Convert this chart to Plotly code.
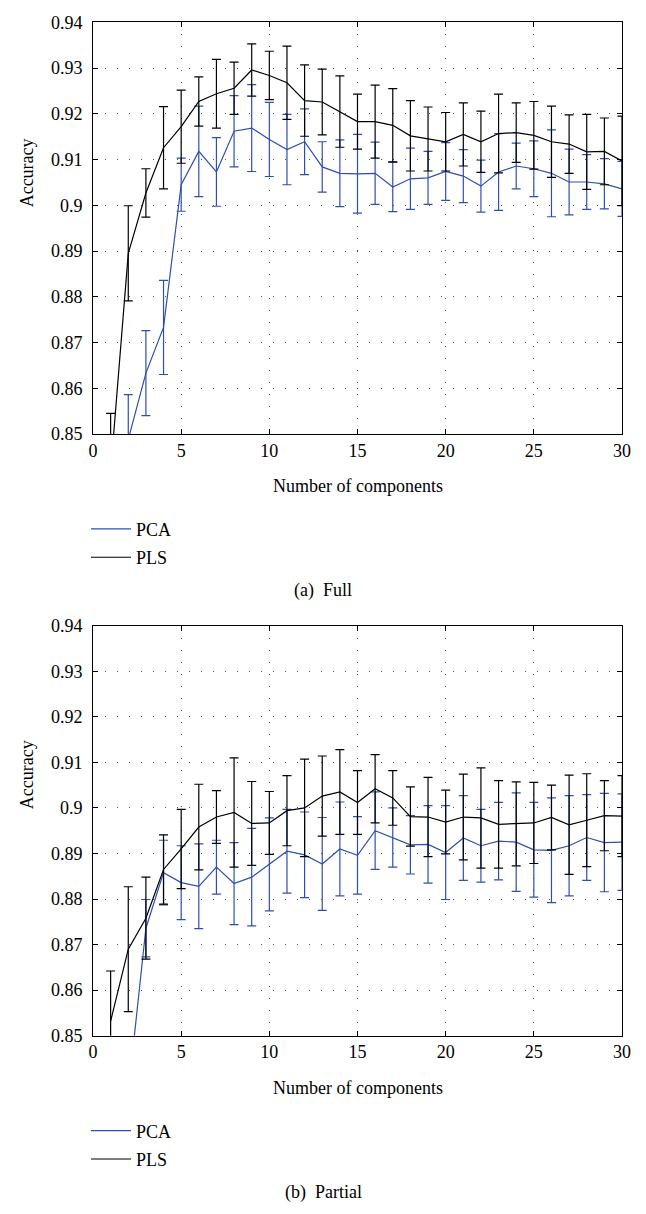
import plotly.graph_objects as go

# ---------------- data ----------------
components = list(range(1, 31))

full_pca_mean = [0.8300, 0.8488, 0.8633, 0.8733, 0.9045, 0.9118, 0.9073, 0.9162, 0.9169, 0.9144,
                 0.9122, 0.9139, 0.9084, 0.9070, 0.9069, 0.9070, 0.9040, 0.9058, 0.9060, 0.9074,
                 0.9064, 0.9042, 0.9073, 0.9086, 0.9080, 0.9070, 0.9051, 0.9051, 0.9047, 0.9036]
full_pca_err = [0.0100, 0.0098, 0.0093, 0.0103, 0.0058, 0.0099, 0.0075, 0.0078, 0.0095, 0.0081,
                0.0077, 0.0072, 0.0055, 0.0073, 0.0086, 0.0068, 0.0054, 0.0067, 0.0058, 0.0063,
                0.0058, 0.0057, 0.0084, 0.0050, 0.0061, 0.0095, 0.0072, 0.0060, 0.0055, 0.0060]

full_pls_mean = [0.8418, 0.8895, 0.9027, 0.9126, 0.9172, 0.9227, 0.9244, 0.9256, 0.9296, 0.9284,
                 0.9268, 0.9229, 0.9226, 0.9205, 0.9183, 0.9183, 0.9175, 0.9152, 0.9145, 0.9139,
                 0.9155, 0.9139, 0.9157, 0.9159, 0.9153, 0.9139, 0.9134, 0.9117, 0.9118, 0.9097]
full_pls_err = [0.0127, 0.0104, 0.0053, 0.0090, 0.0080, 0.0054, 0.0075, 0.0057, 0.0057, 0.0053,
                0.0080, 0.0078, 0.0072, 0.0078, 0.0060, 0.0080, 0.0080, 0.0077, 0.0070, 0.0064,
                0.0069, 0.0067, 0.0086, 0.0065, 0.0074, 0.0078, 0.0064, 0.0082, 0.0073, 0.0098]

part_pca_mean = [0.8200, 0.8375, 0.8736, 0.8858, 0.8836, 0.8828, 0.8870, 0.8834, 0.8848, 0.8876,
                 0.8905, 0.8897, 0.8877, 0.8910, 0.8896, 0.8950, 0.8935, 0.8919, 0.8920, 0.8902,
                 0.8934, 0.8917, 0.8927, 0.8925, 0.8908, 0.8907, 0.8917, 0.8935, 0.8924, 0.8925]
part_pca_err = [0.0100, 0.0100, 0.0063, 0.0071, 0.0081, 0.0093, 0.0059, 0.0090, 0.0107, 0.0102,
                0.0092, 0.0094, 0.0102, 0.0103, 0.0085, 0.0085, 0.0065, 0.0064, 0.0085, 0.0103,
                0.0093, 0.0080, 0.0085, 0.0108, 0.0104, 0.0115, 0.0110, 0.0094, 0.0108, 0.0106]

part_pls_mean = [0.8532, 0.8690, 0.8758, 0.8865, 0.8910, 0.8958, 0.8980, 0.8990, 0.8966, 0.8967,
                 0.8994, 0.9000, 0.9026, 0.9035, 0.9012, 0.9042, 0.9022, 0.8981, 0.8980, 0.8969,
                 0.8980, 0.8978, 0.8964, 0.8965, 0.8967, 0.8979, 0.8963, 0.8973, 0.8983, 0.8982]
part_pls_err = [0.0110, 0.0137, 0.0090, 0.0076, 0.0087, 0.0094, 0.0058, 0.0120, 0.0092, 0.0069,
                0.0077, 0.0107, 0.0088, 0.0093, 0.0070, 0.0075, 0.0060, 0.0065, 0.0087, 0.0070,
                0.0094, 0.0110, 0.0096, 0.0092, 0.0089, 0.0071, 0.0109, 0.0102, 0.0077, 0.0089]

y_tickvals = [0.85, 0.86, 0.87, 0.88, 0.89, 0.90, 0.91, 0.92, 0.93, 0.94]
y_ticktext = ["0.85", "0.86", "0.87", "0.88", "0.89", "0.9", "0.91", "0.92", "0.93", "0.94"]
x_tickvals = [0, 5, 10, 15, 20, 25, 30]
x_ticktext = ["0", "5", "10", "15", "20", "25", "30"]

series_names = ["PCA", "PLS"]
captions = ["(a)  Full", "(b)  Partial"]
x_title = "Number of components"
y_title = "Accuracy"

# ---------------- style ----------------
PAGE_OFF = 8              # default body margin of the html page
W, H = 646 - 2 * PAGE_OFF, 1214 - 2 * PAGE_OFF
ML = 85                   # plot left at page x ~ 93
MR = W - 614              # plot right at page x ~ 622
BLUE = "#2f4fae"
BLACK = "#000000"
FONT = "Liberation Serif"
FS = 18


def py(page_y):  # page pixel-from-top -> paper y
    return 1 - (page_y - PAGE_OFF) / H


def px_x(page_x):  # page pixel-from-left -> paper x
    return (page_x - PAGE_OFF - ML) / (W - ML - MR)


fig = go.Figure()

panels = [
    (full_pca_mean, full_pca_err, full_pls_mean, full_pls_err, "x", "y", "legend", "a"),
    (part_pca_mean, part_pca_err, part_pls_mean, part_pls_err, "x2", "y2", "legend2", "b"),
]
for pca_m, pca_e, pls_m, pls_e, xa, ya, lg, tag in panels:
    for name, m, e, col in [(series_names[0], pca_m, pca_e, BLUE),
                            (series_names[1], pls_m, pls_e, BLACK)]:
        fig.add_trace(go.Scatter(
            x=components, y=m, mode="lines", name=name,
            line=dict(color=col, width=1.2),
            error_y=dict(type="data", array=e, visible=True, color=col,
                         thickness=1.2, width=4.5),
            xaxis=xa, yaxis=ya, legend=lg, legendgroup=tag + name,
        ))

axis_common = dict(
    showline=True, linecolor="black", linewidth=1, mirror="ticks",
    ticks="inside", ticklen=5, tickcolor="black", tickwidth=1,
    showgrid=True, gridcolor="#555555", gridwidth=1, griddash="1px,11px",
    zeroline=False,
    tickfont=dict(family=FONT, size=FS, color="black"),
)

x_dom = [0, 1]
y1_dom = [py(431), py(12.5)]
y2_dom = [py(1043), py(626)]

legend_common = dict(xanchor="left", yanchor="top", bgcolor="rgba(0,0,0,0)",
                     font=dict(family=FONT, size=FS), itemwidth=40, tracegroupgap=2)

fig.update_layout(
    width=W, height=H,
    margin=dict(l=ML, r=MR, t=0, b=0),
    paper_bgcolor="white", plot_bgcolor="white",
    font=dict(family=FONT, size=FS, color="black"),
    xaxis=dict(domain=x_dom, anchor="y", range=[0, 30], tickvals=x_tickvals,
               ticktext=x_ticktext, ticklabelstandoff=0, **axis_common),
    yaxis=dict(domain=y1_dom, anchor="x", range=[0.85, 0.94], tickvals=y_tickvals,
               ticktext=y_ticktext, ticklabelstandoff=6, **axis_common),
    xaxis2=dict(domain=x_dom, anchor="y2", range=[0, 30], tickvals=x_tickvals,
                ticktext=x_ticktext, ticklabelstandoff=0, **axis_common),
    yaxis2=dict(domain=y2_dom, anchor="x2", range=[0.85, 0.94], tickvals=y_tickvals,
                ticktext=y_ticktext, ticklabelstandoff=6, **axis_common),
    legend=dict(x=px_x(86), y=py(509), **legend_common),
    legend2=dict(x=px_x(86), y=py(1121), **legend_common),
    showlegend=True,
)

annotations = []
for off, cap in [(0, captions[0]), (612, captions[1])]:
    annotations.append(dict(text=x_title, x=0.5, y=py(484 + off), xref="paper", yref="paper",
                            xanchor="center", yanchor="middle", showarrow=False,
                            font=dict(family=FONT, size=FS)))
    annotations.append(dict(text=y_title, x=px_x(27), y=py(166 + off), xref="paper", yref="paper",
                            xanchor="center", yanchor="middle", showarrow=False, textangle=-90,
                            font=dict(family=FONT, size=FS)))
    annotations.append(dict(text=cap, x=px_x(323), y=py(590 + off), xref="paper", yref="paper",
                            xanchor="center", yanchor="middle", showarrow=False,
                            font=dict(family=FONT, size=FS)))
fig.update_layout(annotations=annotations)

fig.write_html("out.html")
